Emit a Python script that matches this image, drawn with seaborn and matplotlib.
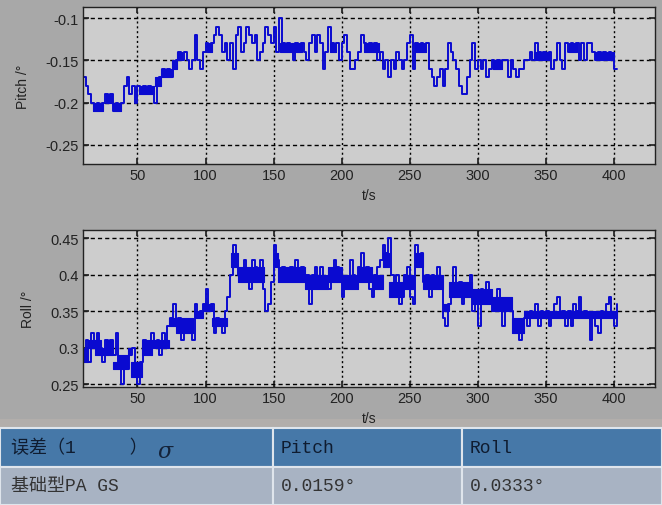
import numpy as np
import pandas as pd
import matplotlib
matplotlib.use("Agg")
import matplotlib.pyplot as plt
import seaborn as sns

# time axis, one sample every 2 s
t_start, t_step = 10, 2

pitch = [
    -0.17, -0.18, -0.19, -0.20, -0.21, -0.20, -0.21, -0.20, -0.19, -0.20,
    -0.19, -0.21, -0.20, -0.21, -0.20, -0.18, -0.17, -0.19, -0.18, -0.20,
    -0.18, -0.19, -0.18, -0.19, -0.18, -0.19, -0.20, -0.18, -0.17, -0.16,
    -0.17, -0.16, -0.17, -0.16, -0.15, -0.14, -0.15, -0.14, -0.15, -0.16,
    -0.15, -0.12, -0.15, -0.16, -0.14, -0.13, -0.14, -0.13, -0.12, -0.11,
    -0.12, -0.14, -0.13, -0.15, -0.13, -0.16, -0.12, -0.11, -0.14, -0.13,
    -0.11, -0.12, -0.13, -0.12, -0.15, -0.14, -0.13, -0.11, -0.12, -0.13,
    -0.11, -0.14, -0.10, -0.13, -0.14, -0.13, -0.14, -0.15, -0.13, -0.14,
    -0.13, -0.14, -0.15, -0.13, -0.12, -0.14, -0.12, -0.13, -0.16, -0.14,
    -0.11, -0.13, -0.14, -0.13, -0.15, -0.13, -0.12, -0.14, -0.16, -0.16,
    -0.15, -0.14, -0.12, -0.13, -0.14, -0.13, -0.14, -0.13, -0.15, -0.14,
    -0.16, -0.15, -0.17, -0.15, -0.16, -0.14, -0.15, -0.16, -0.15, -0.13,
    -0.12, -0.16, -0.13, -0.14, -0.13, -0.14, -0.13, -0.16, -0.17, -0.18,
    -0.17, -0.16, -0.18, -0.16, -0.13, -0.14, -0.15, -0.16, -0.18, -0.19,
    -0.19, -0.17, -0.15, -0.13, -0.16, -0.15, -0.16, -0.15, -0.17, -0.16,
    -0.15, -0.16, -0.15, -0.16, -0.15, -0.15, -0.17, -0.15, -0.16, -0.17,
    -0.16, -0.16, -0.15, -0.15, -0.14, -0.15, -0.13, -0.14, -0.15, -0.14,
    -0.15, -0.14, -0.16, -0.15, -0.13, -0.15, -0.16, -0.13, -0.14, -0.13,
    -0.14, -0.13, -0.15, -0.13, -0.15, -0.13, -0.13, -0.14, -0.15, -0.14,
    -0.15, -0.14, -0.15, -0.14, -0.15, -0.16, -0.16,
]

roll = [
    0.29, 0.31, 0.28, 0.32, 0.30, 0.32, 0.30, 0.28, 0.31, 0.29,
    0.31, 0.29, 0.32, 0.27, 0.25, 0.28, 0.27, 0.29, 0.30, 0.27,
    0.25, 0.28, 0.31, 0.29, 0.30, 0.32, 0.30, 0.31, 0.29, 0.32,
    0.31, 0.33, 0.34, 0.36, 0.33, 0.34, 0.31, 0.33, 0.32, 0.33,
    0.31, 0.36, 0.34, 0.35, 0.36, 0.38, 0.35, 0.36, 0.32, 0.34,
    0.33, 0.32, 0.35, 0.37, 0.40, 0.44, 0.42, 0.40, 0.39, 0.42,
    0.40, 0.38, 0.42, 0.41, 0.40, 0.42, 0.38, 0.35, 0.36, 0.39,
    0.44, 0.42, 0.39, 0.41, 0.40, 0.39, 0.41, 0.40, 0.42, 0.40,
    0.41, 0.39, 0.40, 0.36, 0.40, 0.41, 0.38, 0.41, 0.38, 0.39,
    0.38, 0.40, 0.42, 0.41, 0.40, 0.37, 0.38, 0.39, 0.42, 0.40,
    0.38, 0.41, 0.43, 0.40, 0.41, 0.38, 0.37, 0.40, 0.41, 0.42,
    0.44, 0.43, 0.45, 0.40, 0.38, 0.40, 0.36, 0.37, 0.40, 0.41,
    0.37, 0.36, 0.44, 0.42, 0.43, 0.39, 0.40, 0.37, 0.40, 0.39,
    0.41, 0.38, 0.34, 0.33, 0.36, 0.37, 0.41, 0.38, 0.39, 0.36,
    0.38, 0.37, 0.40, 0.35, 0.36, 0.33, 0.38, 0.36, 0.39, 0.37,
    0.35, 0.36, 0.38, 0.35, 0.33, 0.36, 0.35, 0.35, 0.33, 0.32,
    0.31, 0.33, 0.34, 0.33, 0.35, 0.34, 0.36, 0.33, 0.35, 0.34,
    0.35, 0.33, 0.34, 0.36, 0.37, 0.34, 0.35, 0.33, 0.35, 0.33,
    0.36, 0.35, 0.37, 0.34, 0.35, 0.34, 0.31, 0.34, 0.33, 0.32,
    0.35, 0.34, 0.36, 0.37, 0.34, 0.33, 0.36,
]

# stretches where the signal flickers fast between two levels
# (t from, t to, low level, high level) -> drawn as solid blocks
pitch_bands = [
    (17, 25, -0.21, -0.20), (27, 31, -0.20, -0.19), (32, 38, -0.21, -0.20),
    (51, 62, -0.19, -0.18), (63, 67, -0.18, -0.17), (67, 75, -0.17, -0.16),
    (75, 79, -0.16, -0.15), (79, 83, -0.15, -0.14), (101, 105, -0.14, -0.13),
    (155, 162, -0.14, -0.13), (163, 171, -0.14, -0.13), (191, 196, -0.14, -0.13),
    (216, 227, -0.14, -0.13), (254, 262, -0.14, -0.13), (311, 318, -0.16, -0.15),
    (341, 352, -0.15, -0.14), (367, 373, -0.14, -0.13), (386, 400, -0.15, -0.14),
]

roll_bands = [
    (10, 14, 0.28, 0.30), (14, 19, 0.30, 0.31), (19, 23, 0.29, 0.31),
    (23, 27, 0.29, 0.30), (27, 32, 0.29, 0.31), (32, 36, 0.27, 0.28),
    (36, 43, 0.27, 0.29), (43, 45, 0.29, 0.30), (45, 53, 0.26, 0.28),
    (53, 61, 0.29, 0.31), (61, 73, 0.30, 0.31), (73, 78, 0.33, 0.34),
    (78, 91, 0.32, 0.34), (92, 98, 0.34, 0.35), (98, 105, 0.35, 0.36),
    (105, 116, 0.33, 0.34), (119, 124, 0.41, 0.43), (124, 143, 0.39, 0.41),
    (150, 153, 0.41, 0.43), (153, 173, 0.39, 0.41), (173, 190, 0.38, 0.40),
    (190, 200, 0.39, 0.41), (200, 212, 0.38, 0.40), (212, 222, 0.39, 0.41),
    (222, 230, 0.38, 0.40), (230, 235, 0.41, 0.43), (235, 245, 0.37, 0.39),
    (245, 253, 0.38, 0.40), (254, 260, 0.41, 0.43), (260, 274, 0.38, 0.40),
    (274, 279, 0.35, 0.36), (279, 296, 0.37, 0.39), (296, 310, 0.36, 0.38),
    (310, 325, 0.35, 0.37), (325, 334, 0.32, 0.34), (334, 402, 0.34, 0.35),
]

x_ticks = [50, 100, 150, 200, 250, 300, 350, 400]
pitch_ticks = [-0.25, -0.2, -0.15, -0.1]
roll_ticks = [0.25, 0.3, 0.35, 0.4, 0.45]

table_header = ["误差（1　　　）", "Pitch", "Roll"]
table_row = ["基础型PA GS", "0.0159°", "0.0333°"]

t = t_start + t_step * np.arange(len(pitch))
df = pd.DataFrame({"t": t, "pitch": pitch, "roll": roll})

sns.set_theme(style="ticks")
plt.rcParams["font.family"] = ["Liberation Sans", "DejaVu Sans"]

fig = plt.figure(figsize=(6.62, 5.06), dpi=100)
fig.patch.set_facecolor("#a8a8a8")

line_col = "#0a0ad0"
ax_bg = "#cdcdcd"


def style_axis(ax, yticks, ylim, ylabel):
    ax.set_facecolor(ax_bg)
    ax.set_xlim(10, 430)
    ax.set_ylim(*ylim)
    ax.set_xticks(x_ticks)
    ax.set_yticks(yticks)
    ax.set_yticklabels([f"{v:g}" for v in yticks])
    ax.set_xlabel("t/s", fontsize=10, labelpad=4, color="#222222")
    ax.set_ylabel(ylabel, fontsize=10, labelpad=11, color="#222222")
    ax.tick_params(direction="in", top=True, right=True, length=4,
                   labelsize=10.5, colors="#222222", pad=3)
    ax.xaxis.grid(True, color="black", linestyle=(0, (1.5, 2.0)), linewidth=1.0)
    ax.yaxis.grid(True, color="black", linestyle=(0, (3.0, 2.2)), linewidth=1.0)
    ax.set_axisbelow(True)
    for s in ax.spines.values():
        s.set_color("#222222")
        s.set_linewidth(1.0)


def draw_series(ax, col, bands):
    sns.lineplot(data=df, x="t", y=col, ax=ax, color=line_col, linewidth=1.4,
                 drawstyle="steps-post", estimator=None)
    for t0, t1, lo, hi in bands:
        ax.fill_between([t0, t1], lo, hi, color=line_col, linewidth=0.8,
                        edgecolor=line_col)


ax1 = fig.add_axes([0.1254, 0.674, 0.864, 0.310])
draw_series(ax1, "pitch", pitch_bands)
style_axis(ax1, pitch_ticks, (-0.2725, -0.087), "Pitch /°")

ax2 = fig.add_axes([0.1254, 0.2332, 0.864, 0.310])
draw_series(ax2, "roll", roll_bands)
style_axis(ax2, roll_ticks, (0.246, 0.461), "Roll /°")

# light band above the table
fig.patches.append(plt.Rectangle((0, 78 / 506), 1, 8 / 506, transform=fig.transFigure,
                                 facecolor="#b2aeab", edgecolor="none", zorder=-1))

# table under the plots
tax = fig.add_axes([0, 0, 1, 77 / 506])
tax.set_axis_off()
tab = tax.table(cellText=[table_header, table_row],
                cellColours=[["#4678a8"] * 3, ["#a8b3c3"] * 3],
                colWidths=[273 / 662, 189 / 662, 200 / 662],
                cellLoc="left", bbox=[0, 0, 1, 1])
tab.auto_set_font_size(False)
for (r, c), cell in tab.get_celld().items():
    cell.set_edgecolor("#dfe5ec")
    cell.set_linewidth(1.5)
    cell.PAD = 0.04
    txt = cell.get_text()
    txt.set_fontsize(13)
    txt.set_family(["Liberation Mono", "Noto Sans CJK SC"])
    txt.set_color("#0f1c30" if r == 0 else "#333333")

# the sigma that sits apart in the header cell
tax.text(165 / 662, 0.70, "σ", transform=tax.transAxes, fontsize=16,
         style="italic", family=["DejaVu Serif"], color="#14233a",
         ha="center", va="center")

fig.savefig("out.png", dpi=100, facecolor=fig.get_facecolor())
